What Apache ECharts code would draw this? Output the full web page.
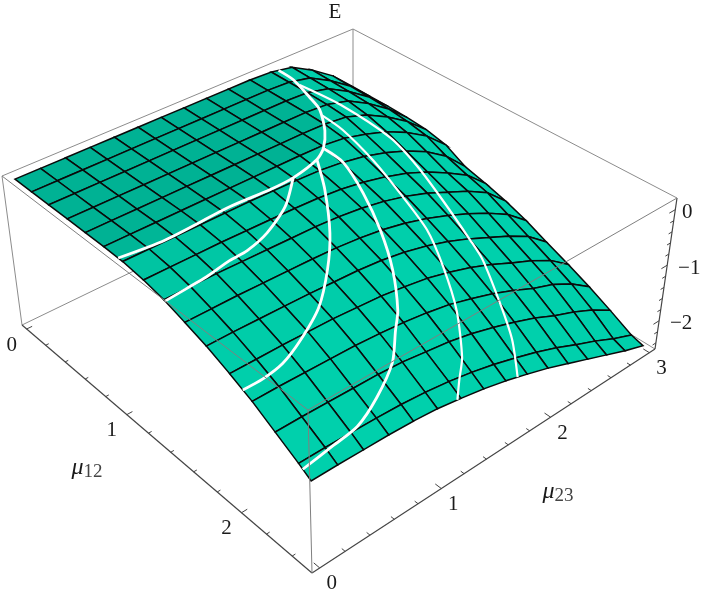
<!DOCTYPE html>
<html>
<head>
<meta charset="utf-8">
<style>html,body{margin:0;padding:0;background:#fff}#chart{width:706px;height:601px}</style>
<script src="https://cdn.jsdelivr.net/npm/echarts@6/dist/echarts.min.js"></script>
</head>
<body>
<div id="chart"></div>
<script>
// mesh lines of the surface
const mu12Mesh = [0, 0.17, 0.34, 0.52, 0.69, 0.86, 1.03, 1.21, 1.38, 1.55, 1.72, 1.9, 2.07, 2.24, 2.41, 2.5];
const mu23Mesh = [0, 0.2, 0.4, 0.6, 0.8, 1.0, 1.2, 1.4, 1.6, 1.8, 2.0, 2.2, 2.4, 2.6, 2.8, 3.0];
// E, one row per mu12 mesh line
const energy = [
  [0.16, 0.16, 0.16, 0.16, 0.16, 0.16, 0.16, 0.16, 0.16, 0.16, 0.16, 0.14, 0.06, -0.17, -0.45, -0.83],
  [0.16, 0.16, 0.16, 0.16, 0.16, 0.16, 0.16, 0.16, 0.16, 0.16, 0.16, 0.14, 0.05, -0.18, -0.46, -0.83],
  [0.16, 0.16, 0.16, 0.16, 0.16, 0.16, 0.16, 0.16, 0.16, 0.16, 0.16, 0.14, 0.04, -0.19, -0.47, -0.83],
  [0.16, 0.16, 0.16, 0.16, 0.16, 0.16, 0.16, 0.16, 0.16, 0.16, 0.16, 0.13, 0.02, -0.21, -0.49, -0.84],
  [0.16, 0.16, 0.16, 0.16, 0.16, 0.16, 0.16, 0.16, 0.16, 0.16, 0.15, 0.1, -0.04, -0.26, -0.53, -0.87],
  [0.16, 0.16, 0.16, 0.16, 0.16, 0.16, 0.16, 0.16, 0.16, 0.15, 0.1, -0.01, -0.15, -0.35, -0.6, -0.95],
  [0.15, 0.15, 0.15, 0.15, 0.15, 0.15, 0.14, 0.13, 0.11, 0.06, -0.02, -0.14, -0.3, -0.5, -0.77, -1.15],
  [0.1, 0.1, 0.1, 0.1, 0.09, 0.08, 0.07, 0.05, 0.01, -0.06, -0.16, -0.29, -0.46, -0.67, -0.9, -1.25],
  [0.02, 0.02, 0.02, 0.01, 0, -0.01, -0.02, -0.05, -0.1, -0.18, -0.29, -0.43, -0.61, -0.79, -1.01, -1.36],
  [-0.1, -0.1, -0.1, -0.11, -0.12, -0.13, -0.15, -0.19, -0.25, -0.34, -0.46, -0.61, -0.78, -0.97, -1.19, -1.5],
  [-0.23, -0.23, -0.24, -0.25, -0.26, -0.28, -0.3, -0.34, -0.41, -0.51, -0.64, -0.8, -0.98, -1.16, -1.37, -1.67],
  [-0.4, -0.4, -0.4, -0.41, -0.42, -0.45, -0.48, -0.54, -0.61, -0.72, -0.85, -1.01, -1.19, -1.36, -1.56, -1.84],
  [-0.58, -0.58, -0.59, -0.6, -0.61, -0.64, -0.68, -0.74, -0.82, -0.94, -1.07, -1.23, -1.41, -1.55, -1.75, -2.01],
  [-0.8, -0.8, -0.81, -0.82, -0.83, -0.86, -0.92, -0.98, -1.07, -1.19, -1.32, -1.47, -1.65, -1.8, -1.98, -2.2],
  [-1.02, -1.02, -1.03, -1.04, -1.06, -1.1, -1.16, -1.24, -1.34, -1.46, -1.59, -1.74, -1.91, -2.07, -2.25, -2.4],
  [-1.15, -1.15, -1.16, -1.17, -1.19, -1.23, -1.3, -1.38, -1.48, -1.6, -1.73, -1.88, -2.03, -2.18, -2.33, -2.46]
];
// white curves on the surface, [mu12, mu23] pairs
const curve1 = [[0.99, 0], [1.02, 0.33], [1.0, 0.87], [1.01, 1.19], [1.0, 1.4], [0.94, 1.67], [0.88, 1.79], [0.74, 1.95], [0.54, 2.11], [0.39, 2.17], [0.15, 2.26], [0, 2.27]];
const curve2 = [[1.0, 1.4], [1.17, 1.16], [1.28, 0.9], [1.33, 0.69], [1.34, 0.54], [1.37, 0.33], [1.38, 0.17], [1.39, 0]];
const curve3 = [[0.94, 1.67], [1.17, 1.5], [1.45, 1.25], [1.64, 1.03], [1.81, 0.78], [1.92, 0.52], [1.98, 0.32], [2.0, 0.15], [2.0, 0]];
const curve4 = [[0.88, 1.79], [1.03, 1.81], [1.28, 1.72], [1.55, 1.58], [1.79, 1.42], [2.0, 1.23], [2.09, 1.11], [2.22, 0.94], [2.33, 0.69], [2.4, 0.46], [2.42, 0.25], [2.44, 0]];
const curve5 = [[0.6, 2.07], [0.78, 2.07], [1.07, 2.04], [1.35, 1.98], [1.62, 1.92], [1.86, 1.79], [2.11, 1.62], [2.33, 1.41], [2.42, 1.28], [2.5, 1.17]];
const curve6 = [[0.23, 2.24], [0.55, 2.3], [0.91, 2.38], [1.16, 2.36], [1.44, 2.28], [1.73, 2.2], [1.86, 2.16], [2.13, 2.0], [2.32, 1.88], [2.5, 1.71]];
const whiteCurves = [curve1, curve2, curve3, curve4, curve5, curve6];
const mu12Ticks = [0, 1, 2];
const mu23Ticks = [0, 1, 2, 3];
const energyTicks = [0, -1, -2];

// plot box and where its corners land on the page: left, front, right, back
const mu12Range = [-0.05, 2.55];
const mu23Range = [-0.06, 3.06];
const energyRange = [-2.51, 0.21];
const topQuad = [[2, 176], [308, 410], [677, 198], [353, 29]];
const bottomQuad = [[22, 325], [312, 573], [655, 349], [353, 165]];

const quadMap = (q) => {
  const [p0, p1, p2, p3] = q;
  const dx1 = p1[0] - p2[0], dx2 = p3[0] - p2[0], sx = p0[0] - p1[0] + p2[0] - p3[0];
  const dy1 = p1[1] - p2[1], dy2 = p3[1] - p2[1], sy = p0[1] - p1[1] + p2[1] - p3[1];
  const den = dx1 * dy2 - dx2 * dy1;
  const g = (sx * dy2 - dx2 * sy) / den, h = (dx1 * sy - sx * dy1) / den;
  const a = p1[0] - p0[0] + g * p1[0], b = p3[0] - p0[0] + h * p3[0];
  const d = p1[1] - p0[1] + g * p1[1], e = p3[1] - p0[1] + h * p3[1];
  return (u, v) => {
    const w = g * u + h * v + 1;
    return [(a * u + b * v + p0[0]) / w, (d * u + e * v + p0[1]) / w];
  };
};
const topMap = quadMap(topQuad);
const bottomMap = quadMap(bottomQuad);

const project = (m, n, z) => {
  const u = (m - mu12Range[0]) / (mu12Range[1] - mu12Range[0]);
  const v = (n - mu23Range[0]) / (mu23Range[1] - mu23Range[0]);
  const t = (z - energyRange[0]) / (energyRange[1] - energyRange[0]);
  const a = topMap(u, v), b = bottomMap(u, v);
  return [b[0] + (a[0] - b[0]) * t, b[1] + (a[1] - b[1]) * t];
};

const surfaceAt = (m, n) => {
  let i = 0, j = 0;
  while (i < mu12Mesh.length - 2 && m > mu12Mesh[i + 1]) i++;
  while (j < mu23Mesh.length - 2 && n > mu23Mesh[j + 1]) j++;
  const s = (m - mu12Mesh[i]) / (mu12Mesh[i + 1] - mu12Mesh[i]);
  const r = (n - mu23Mesh[j]) / (mu23Mesh[j + 1] - mu23Mesh[j]);
  return energy[i][j] * (1 - s) * (1 - r) + energy[i + 1][j] * s * (1 - r) +
    energy[i][j + 1] * (1 - s) * r + energy[i + 1][j + 1] * s * r;
};

// flat part of the surface is darker, the slopes catch the light
const cellColor = (i, j) => {
  const dm = ((energy[i + 1][j] + energy[i + 1][j + 1]) - (energy[i][j] + energy[i][j + 1])) / 2 / (mu12Mesh[i + 1] - mu12Mesh[i]);
  const dn = ((energy[i][j + 1] + energy[i + 1][j + 1]) - (energy[i][j] + energy[i + 1][j])) / 2 / (mu23Mesh[j + 1] - mu23Mesh[j]);
  const slope = Math.sqrt(dm * dm + dn * dn);
  const t = Math.min(1, slope / 0.25);
  const t2 = Math.min(1, Math.max(0, (slope - 0.25) / 0.9));
  const g = 178 + 18 * t + 12 * t2, b = 148 + 14 * t + 10 * t2;
  return 'rgb(0,' + Math.round(g) + ',' + Math.round(b) + ')';
};

// painter's order, far corner (mu12 small, mu23 large) first
const cells = [];
for (let i = 0; i < mu12Mesh.length - 1; i++) {
  for (let j = mu23Mesh.length - 2; j >= 0; j--) {
    cells.push([i, j]);
  }
}

const renderCell = (params, api) => {
  const [i, j] = cells[params.dataIndex];
  const pts = [[i, j], [i + 1, j], [i + 1, j + 1], [i, j + 1]].map(([a, b]) =>
    api.coord(project(mu12Mesh[a], mu23Mesh[b], energy[a][b])));
  return {
    type: 'polygon',
    shape: { points: pts },
    style: { fill: cellColor(i, j), stroke: '#0a0a0a', lineWidth: 1.5 }
  };
};

const corner = (a, b, c) => project(mu12Range[a], mu23Range[b], energyRange[c]);
// hidden edges go under the surface, the near ones over it
const backEdges = [
  [corner(0, 0, 1), corner(0, 1, 1)], [corner(0, 1, 1), corner(1, 1, 1)],
  [corner(0, 1, 1), corner(0, 1, 0)], [corner(0, 0, 0), corner(0, 1, 0)],
  [corner(0, 1, 0), corner(1, 1, 0)], [corner(0, 0, 1), corner(0, 0, 0)]
];
const frontEdges = [
  [corner(0, 0, 1), corner(1, 0, 1)], [corner(1, 0, 1), corner(1, 1, 1)],
  [corner(1, 0, 1), corner(1, 0, 0)]
];
const axisEdges = [
  [corner(0, 0, 0), corner(1, 0, 0)], [corner(1, 0, 0), corner(1, 1, 0)], [corner(1, 1, 1), corner(1, 1, 0)]
];
const tickMarks = [];
for (let k = 0; k <= 12; k++) {
  const m = k * 0.2, len = k % 5 === 0 ? 0.045 : 0.025;
  if (m <= mu12Range[1]) tickMarks.push([project(m, mu23Range[0], energyRange[0]), project(m, mu23Range[0] + len, energyRange[0])]);
}
for (let k = 0; k <= 15; k++) {
  const n = k * 0.2, len = k % 5 === 0 ? 0.045 : 0.025;
  tickMarks.push([project(mu12Range[1], n, energyRange[0]), project(mu12Range[1] - len, n, energyRange[0])]);
}
for (let k = 0; k <= 12; k++) {
  const z = -k * 0.2, len = k % 5 === 0 ? 0.06 : 0.035;
  tickMarks.push([project(mu12Range[1], mu23Range[1], z), project(mu12Range[1], mu23Range[1] - len, z)]);
}

const segmentSeries = (segs, color, width, z) => ({
  type: 'custom',
  coordinateSystem: 'cartesian2d',
  silent: true,
  clip: false,
  z: z,
  data: segs.map((s, i) => [i]),
  renderItem: (params, api) => ({
    type: 'polyline',
    shape: { points: segs[params.dataIndex].map((p) => api.coord(p)) },
    style: { stroke: color, lineWidth: width, fill: null }
  })
});

const whiteSeries = {
  type: 'custom',
  coordinateSystem: 'cartesian2d',
  silent: true,
  clip: false,
  z: 4,
  data: whiteCurves.map((c, i) => [i]),
  renderItem: (params, api) => ({
    type: 'polyline',
    shape: {
      points: whiteCurves[params.dataIndex].map(([m, n]) => api.coord(project(m, n, surfaceAt(m, n)))),
      smooth: 0.25
    },
    style: { stroke: '#fff', lineWidth: params.dataIndex > 3 ? 2.2 : 2.8, fill: null }
  })
};

const textFont = '"Liberation Serif", "Times New Roman", serif';
const label = (text, p, dx, dy) => ({
  type: 'text',
  x: p[0] + dx,
  y: p[1] + dy,
  style: { text: text, font: '21px ' + textFont, fill: '#1a1a1a', textAlign: 'center', textVerticalAlign: 'middle' },
  silent: true
});
const muLabel = (sub, x, y) => ({
  type: 'text',
  x: x,
  y: y,
  style: {
    rich: {
      a: { font: 'italic 24px ' + textFont, fill: '#1a1a1a' },
      b: { font: '19px ' + textFont, fill: '#444', verticalAlign: 'bottom', padding: [8, 0, 0, 0] }
    },
    text: '{a|\u03bc}{b|' + sub + '}',
    textAlign: 'center',
    textVerticalAlign: 'middle'
  },
  silent: true
});

const graphics = []
  .concat(mu12Ticks.map((t) => label(String(t), project(t, mu23Range[0], energyRange[0]), -15, 16)))
  .concat(mu23Ticks.map((t) => label(String(t), project(mu12Range[1], t, energyRange[0]), 12, 16)))
  .concat(energyTicks.map((t) => label(t === 0 ? '0' : '\u2212' + Math.abs(t), project(mu12Range[1], mu23Range[1], t), t === 0 ? 12 : 22, 3)));
graphics.push(label('E', [335, 12], 0, 0));
graphics.push(muLabel('12', 87, 468));
graphics.push(muLabel('23', 558, 492));

const chart = echarts.init(document.getElementById('chart'), null, { renderer: 'canvas' });
chart.setOption({
  animation: false,
  backgroundColor: '#fff',
  grid: { left: 0, right: 0, top: 0, bottom: 0 },
  xAxis: { type: 'value', min: 0, max: 706, show: false },
  yAxis: { type: 'value', min: 0, max: 601, inverse: true, show: false },
  graphic: graphics,
  series: [
    segmentSeries(backEdges, '#8c8c8c', 1, 1),
    segmentSeries(axisEdges, '#444', 1.2, 1),
    segmentSeries(tickMarks, '#444', 1, 1),
    {
      type: 'custom',
      coordinateSystem: 'cartesian2d',
      silent: true,
      clip: false,
      z: 3,
      data: cells.map((c, i) => [i]),
      renderItem: renderCell
    },
    whiteSeries,
    segmentSeries(frontEdges, '#808080', 1, 5)
  ]
});
</script>
</body>
</html>
